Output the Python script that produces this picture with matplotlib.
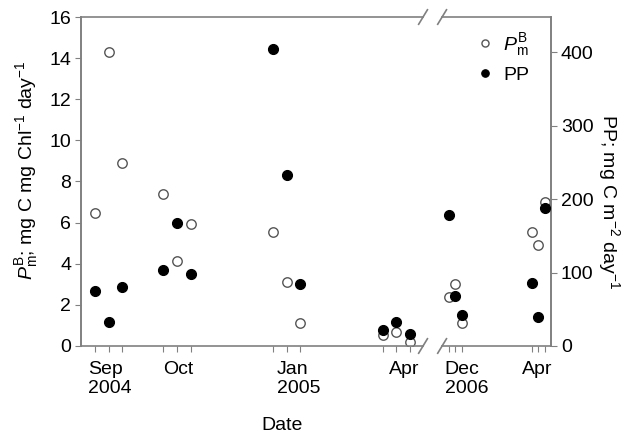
import matplotlib
matplotlib.use("Agg")
import matplotlib.pyplot as plt
import numpy as np

plt.rcParams['font.family'] = ['Liberation Sans', 'DejaVu Sans']
plt.rcParams['mathtext.fontset'] = 'custom'
plt.rcParams['mathtext.rm'] = 'Liberation Sans'
plt.rcParams['mathtext.it'] = 'Liberation Sans:italic'
plt.rcParams['font.size'] = 14

# sampling positions on a broken date axis (sample index units)
sample_x = [0, 1, 2, 5, 6, 7, 13, 14, 15, 21, 22, 23,
            25.8, 26.3, 26.8, 31.9, 32.35, 32.85]
# P^B_m, mg C mg Chl^-1 day^-1
pbm = [6.45, 14.3, 8.88, 7.38, 4.12, 5.95, 5.56, 3.11, 1.13,
       0.54, 0.70, 0.19, 2.37, 3.0, 1.10, 5.56, 4.90, 7.02]
# PP, mg C m^-2 day^-1
pp = [75, 33, 80, 104, 167, 98, 405, 233, 84,
      22, 32, 17, 178, 68, 42, 86, 39, 188]

month_pos = [1.1, 6.05, 14.85, 22.6, 27.1, 32.3]
month_labels = ['Sep\n2004', 'Oct', 'Jan\n2005', 'Apr', 'Dec\n2006', 'Apr']

spine_c = '#808080'
fig = plt.figure(figsize=(6.22, 4.34), dpi=100)
ax = fig.add_axes([0.130, 0.2028, 0.756, 0.758])
ax2 = ax.twinx()

ax.plot(sample_x, pbm, 'o', ms=6.8, mfc='white', mec='#555555', mew=1.0,
        label=r'$P^{\rm B}_{\rm m}$', zorder=3)
ax2.plot(sample_x, pp, 'o', ms=7.2, mfc='black', mec='black', mew=0.8,
         label='PP', zorder=3)

xmin, xmax = -1.02, 33.28
ax.set_xlim(xmin, xmax)
ax.set_ylim(0, 16)
ax2.set_ylim(0, 448)
ax.set_yticks(np.arange(0, 17, 2))
ax2.set_yticks(np.arange(0, 401, 100))

ax.set_xticks(sample_x)
ax.set_xticklabels([])
trx = ax.get_xaxis_transform()
for pos, lab in zip(month_pos, month_labels):
    ax.text(pos, -0.045, lab, transform=trx, ha='center', va='top',
            multialignment='left', linespacing=1.15)
ax.tick_params(axis='x', which='major', direction='out', length=4, color=spine_c)
ax.tick_params(axis='y', direction='out', length=4, color=spine_c, pad=3)
ax2.tick_params(axis='y', direction='out', length=4, color=spine_c, pad=3)

# broken axis: hide top/bottom spines and draw segments
gap_l, gap_r = 23.94, 25.33
for a in (ax, ax2):
    a.spines['top'].set_visible(False)
    a.spines['bottom'].set_visible(False)
    for s in ('left', 'right'):
        a.spines[s].set_color(spine_c)
        a.spines[s].set_linewidth(1.2)
for yy in (0, 1):
    ax.plot([xmin, gap_l], [yy, yy], color=spine_c, lw=1.2, transform=trx, clip_on=False, zorder=4)
    ax.plot([gap_r, xmax], [yy, yy], color=spine_c, lw=1.2, transform=trx, clip_on=False, zorder=4)
    for gx in (gap_l, gap_r):
        ax.plot([gx - 0.32, gx + 0.32], [yy - 0.022, yy + 0.022], color=spine_c, lw=1.2,
                transform=trx, clip_on=False, zorder=4)

ax.set_ylabel(r'$P^{\rm B}_{\rm m}$; mg C mg Chl$^{-1}$ day$^{-1}$')
ax.yaxis.set_label_coords(-0.086, 0.535)
ax2.set_ylabel(r'PP; mg C m$^{-2}$ day$^{-1}$', rotation=270, va='center')
ax2.yaxis.set_label_coords(1.122, 0.438)
ax.set_xlabel('Date')
ax.xaxis.set_label_coords(0.428, -0.215)

h1, l1 = ax.get_legend_handles_labels()
h2, l2 = ax2.get_legend_handles_labels()
ax2.legend(h1 + h2, l1 + l2, loc='upper right', bbox_to_anchor=(0.99, 1.01),
           frameon=False, markerscale=0.75, handletextpad=0.4, handlelength=1.0,
           labelspacing=0.4)

fig.savefig('out.png', dpi=100)
